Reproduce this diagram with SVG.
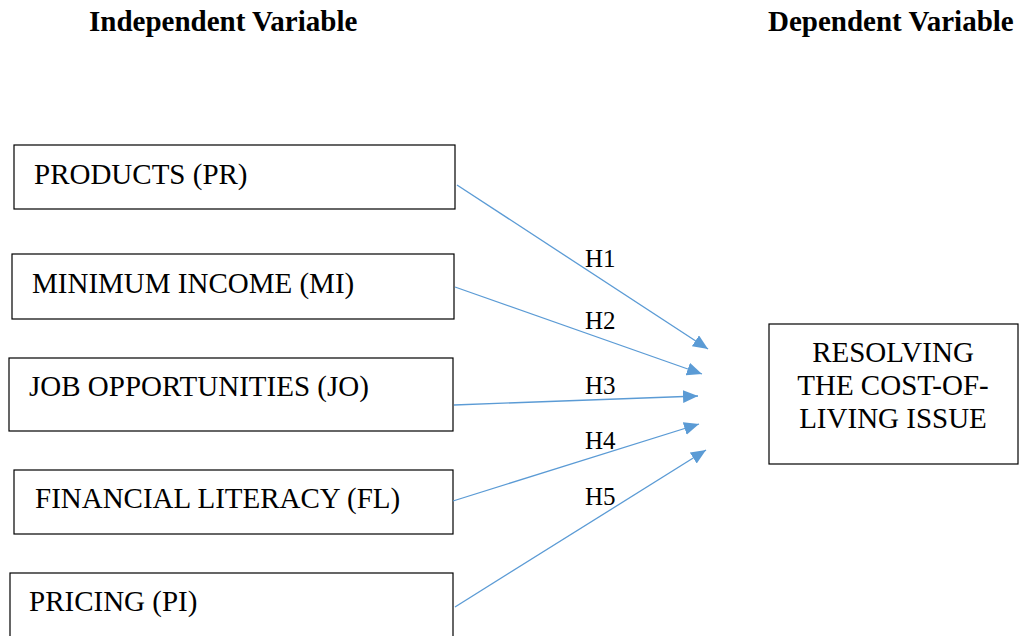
<svg xmlns="http://www.w3.org/2000/svg" width="1022" height="636" viewBox="0 0 1022 636">
<style>
  .box { fill: #ffffff; stroke: #000000; stroke-width: 1.2; }
  .t { font-family: "Liberation Serif", "Times New Roman", serif; font-size: 29px; fill: #000000; }
  .h { font-family: "Liberation Serif", "Times New Roman", serif; font-size: 29px; font-weight: bold; fill: #000000; }
  .lbl { font-family: "Liberation Serif", "Times New Roman", serif; font-size: 25px; fill: #000000; }
  .arr { stroke: #5B9BD5; stroke-width: 1.3; fill: none; marker-end: url(#ah); }
</style>
<defs>
  <marker id="ah" markerUnits="userSpaceOnUse" markerWidth="16" markerHeight="14" refX="15" refY="6.5" orient="auto">
    <path d="M0,0 L15,6.5 L0,13 Z" fill="#5B9BD5"/>
  </marker>
</defs>
<rect width="1022" height="636" fill="#ffffff"/>
<g id="headers">
  <text class="h" x="89" y="31">Independent Variable</text>
  <text class="h" x="768" y="31">Dependent Variable</text>
</g>
<g id="node-pr">
  <rect class="box" x="14" y="145" width="441" height="64"/>
  <text class="t" x="34" y="184">PRODUCTS (PR)</text>
</g>
<g id="node-mi">
  <rect class="box" x="12" y="254" width="442" height="65"/>
  <text class="t" x="32" y="293">MINIMUM INCOME (MI)</text>
</g>
<g id="node-jo">
  <rect class="box" x="9" y="358" width="444" height="73"/>
  <text class="t" x="29" y="396">JOB OPPORTUNITIES (JO)</text>
</g>
<g id="node-fl">
  <rect class="box" x="14" y="470" width="439" height="64"/>
  <text class="t" x="35" y="508">FINANCIAL LITERACY (FL)</text>
</g>
<g id="node-pi">
  <rect class="box" x="10" y="573" width="443" height="70"/>
  <text class="t" x="29" y="611">PRICING (PI)</text>
</g>
<g id="node-dv">
  <rect class="box" x="769" y="324" width="249" height="140"/>
  <text class="t" x="893" y="362" text-anchor="middle">RESOLVING</text>
  <text class="t" x="893" y="395" text-anchor="middle">THE COST-OF-</text>
  <text class="t" x="893" y="428" text-anchor="middle">LIVING ISSUE</text>
</g>
<g id="connectors">
  <line class="arr" x1="457" y1="185" x2="708" y2="349"/>
  <line class="arr" x1="455" y1="287" x2="702" y2="374"/>
  <line class="arr" x1="454" y1="405" x2="698" y2="396"/>
  <line class="arr" x1="453" y1="501" x2="699" y2="424"/>
  <line class="arr" x1="455" y1="607" x2="706" y2="450"/>
  <text class="lbl" x="585" y="267">H1</text>
  <text class="lbl" x="585" y="329">H2</text>
  <text class="lbl" x="585" y="394">H3</text>
  <text class="lbl" x="585" y="449">H4</text>
  <text class="lbl" x="585" y="505">H5</text>
</g>
</svg>
